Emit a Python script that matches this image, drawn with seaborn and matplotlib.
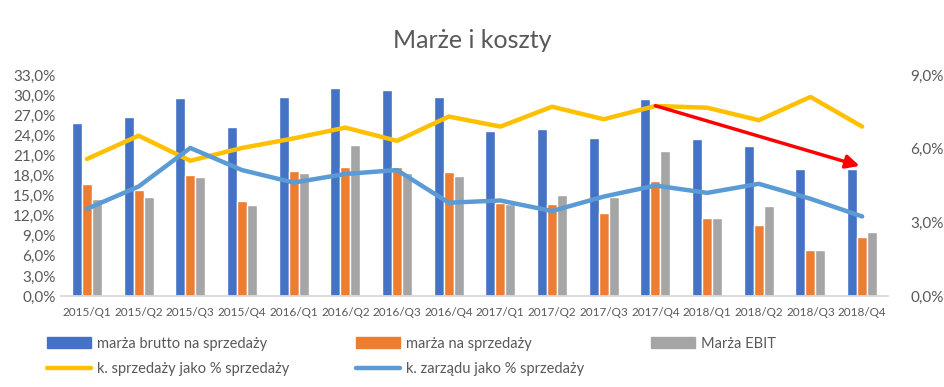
import numpy as np
import pandas as pd
import seaborn as sns
import matplotlib.pyplot as plt
from matplotlib.ticker import FuncFormatter
from matplotlib.patches import Patch
from matplotlib.lines import Line2D

# dane (w %)
kwartaly = ['2015/Q1', '2015/Q2', '2015/Q3', '2015/Q4', '2016/Q1', '2016/Q2', '2016/Q3', '2016/Q4',
            '2017/Q1', '2017/Q2', '2017/Q3', '2017/Q4', '2018/Q1', '2018/Q2', '2018/Q3', '2018/Q4']
marza_brutto = [25.9, 26.7, 29.6, 25.2, 29.7, 31.1, 30.8, 29.7, 24.6, 24.9, 23.6, 29.4, 23.4, 22.4, 19.0, 19.0]
marza_sprzedaz = [16.7, 15.8, 18.1, 14.2, 18.7, 19.3, 19.3, 18.5, 13.9, 13.7, 12.4, 17.2, 11.6, 10.6, 6.9, 8.8]
marza_ebit = [14.5, 14.8, 17.7, 13.6, 18.4, 22.5, 18.3, 17.9, 13.8, 15.1, 14.8, 21.7, 11.6, 13.4, 6.9, 9.6]
k_sprzedazy = [5.58, 6.53, 5.51, 6.03, 6.42, 6.86, 6.32, 7.31, 6.90, 7.71, 7.20, 7.74, 7.67, 7.16, 8.11, 6.90]
k_zarzadu = [3.55, 4.46, 6.03, 5.13, 4.62, 4.97, 5.13, 3.80, 3.89, 3.46, 4.05, 4.50, 4.20, 4.57, 3.96, 3.24]

serie_slupki = ['marża brutto na sprzedaży', 'marża na sprzedaży', 'Marża EBIT']
kolory_slupki = ['#4472C4', '#ED7D31', '#A5A5A5']

df = pd.DataFrame({'kwartal': kwartaly * 3,
                   'seria': np.repeat(serie_slupki, len(kwartaly)),
                   'wartosc': marza_brutto + marza_sprzedaz + marza_ebit})

sns.set_style('white')
plt.rcParams['font.family'] = ['Lato', 'DejaVu Sans']
szary_tekst = '#595959'

fig = plt.figure(figsize=(9.45, 3.87), dpi=100)
ax = fig.add_axes([0.0646, 0.2351, 0.8751, 0.571])

sns.barplot(data=df, x='kwartal', y='wartosc', hue='seria', palette=kolory_slupki,
            width=0.58, gap=0, saturation=1, ax=ax, legend=False)
ax.set_ylim(0, 33)
ax.set_yticks(np.arange(0, 34, 3))
ax.yaxis.set_major_formatter(FuncFormatter(lambda v, p: f'{v:.1f}%'.replace('.', ',')))
ax.set_xlabel('')
ax.set_ylabel('')
ax.set_xlim(-0.5, len(kwartaly) - 0.5)
for s in ['top', 'right', 'left']:
    ax.spines[s].set_visible(False)
ax.spines['bottom'].set_color('#d9d9d9')
ax.spines['bottom'].set_linewidth(1.3)
ax.tick_params(axis='y', labelsize=11, colors=szary_tekst, length=0, pad=4)
ax.tick_params(axis='x', labelsize=8.5, colors=szary_tekst, length=0, pad=8)

# linie na prawej osi
ax2 = ax.twinx()
x = np.arange(len(kwartaly))
sns.lineplot(x=x, y=k_sprzedazy, color='#FFC000', linewidth=3.2, ax=ax2)
sns.lineplot(x=x, y=k_zarzadu, color='#5B9BD5', linewidth=3.2, ax=ax2)
ax2.set_ylim(0, 9)
ax2.set_yticks([0, 3, 6, 9])
ax2.yaxis.set_major_formatter(FuncFormatter(lambda v, p: f'{v:.1f}%'.replace('.', ',')))
for s in ['top', 'right', 'left', 'bottom']:
    ax2.spines[s].set_visible(False)
ax2.tick_params(axis='y', labelsize=11, colors=szary_tekst, length=0, pad=16)
ax2.set_xlim(-0.5, len(kwartaly) - 0.5)

# strzałka trendu
ax2.annotate('', xy=(14.95, 5.3), xytext=(11, 7.75),
             arrowprops=dict(arrowstyle='-|>', color='#FF0000', lw=2.5, mutation_scale=20,
                             shrinkA=0, shrinkB=0))

fig.text(0.5, 0.895, 'Marże i koszty', ha='center', va='center', fontsize=18, color=szary_tekst)

uchwyty = [Patch(color=kolory_slupki[0]),
           Line2D([], [], color='#FFC000', lw=3.2),
           Patch(color=kolory_slupki[1]),
           Line2D([], [], color='#5B9BD5', lw=3.2),
           Patch(color=kolory_slupki[2]), Patch(color='none')]
etykiety = [serie_slupki[0], 'k. sprzedaży jako % sprzedaży',
            serie_slupki[1], 'k. zarządu jako % sprzedaży',
            serie_slupki[2], '']
fig.legend(uchwyty, etykiety, ncol=3, loc='upper left', bbox_to_anchor=(0.05, 0.13),
           frameon=False, fontsize=10.5, labelcolor=szary_tekst, handlelength=3.0,
           handleheight=0.7, handletextpad=0.4, columnspacing=4.6, labelspacing=0.75,
           borderpad=0, borderaxespad=0)

fig.savefig('out.png', dpi=100)
